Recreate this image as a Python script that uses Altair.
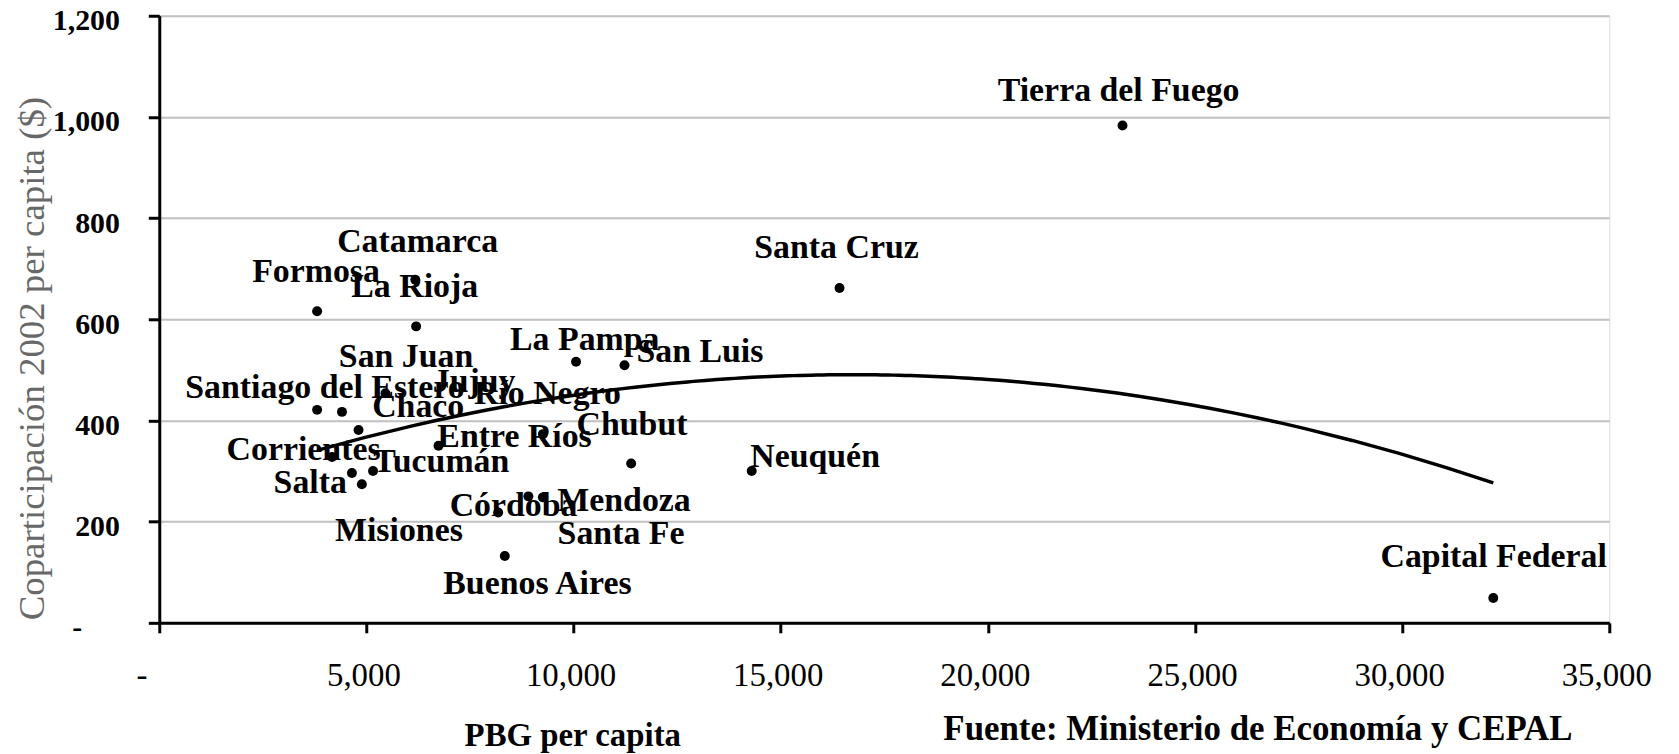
import altair as alt
import pandas as pd

provinces = ["Tierra del Fuego", "Santa Cruz", "Capital Federal", "Neuquén", "Chubut",
             "La Pampa", "San Luis", "Río Negro", "Entre Ríos", "San Juan", "Catamarca",
             "Formosa", "La Rioja", "Buenos Aires", "Santiago del Estero", "Chaco", "Jujuy",
             "Corrientes", "Salta", "Misiones", "Tucumán", "Córdoba", "Mendoza", "Santa Fe"]
pbg = [23250, 16420, 32200, 14300, 11390, 10060, 11230, 9260, 6740, 5460, 6180,
       3810, 6200, 8340, 3810, 4410, 4810, 4170, 4650, 4890, 5160, 8180, 8910, 9260]
copart = [983, 662, 49, 300, 315, 516, 509, 373, 350, 454, 678,
          616, 586, 132, 421, 417, 381, 328, 296, 274, 300, 218, 250, 248]
# label anchor positions (data units)
label_x = [23157, 16347, 32210, 15830, 11410, 10270, 13051, 9369, 8576, 5958, 6236,
           3784, 6166, 9128, 4000, 6250, 7600, 3483, 3644, 5785, 6808, 8552, 11219, 11146]
label_y = [1052, 740, 130, 328, 391, 558, 535, 452, 368, 526, 752,
           693, 663, 77, 464, 427, 476, 342, 277, 181, 317, 230, 240, 175]

x_ticks = [0, 5000, 10000, 15000, 20000, 25000, 30000, 35000]
y_ticks = [0, 200, 400, 600, 800, 1000, 1200]

df = pd.DataFrame({"prov": provinces, "pbg": pbg, "copart": copart,
                   "lx": label_x, "ly": label_y})

FONT = "Liberation Serif"
label_expr = "datum.value == 0 ? '-' : format(datum.value, ',')"

x_scale = alt.Scale(domain=[0, 35000], nice=False, zero=False)
y_scale = alt.Scale(domain=[0, 1200], nice=False, zero=False)

x_axis = alt.Axis(values=x_ticks, labelExpr=label_expr, labelFont=FONT, labelFontSize=33,
                  labelColor="black", labelPadding=27, labelFlush=False, labelOverlap=False,
                  labelOffset={"condition": {"test": "datum.value == 0", "value": -18},
                               "value": -3},
                  tickSize=10, tickWidth=3, tickColor="black",
                  domainColor="black", domainWidth=3, grid=False,
                  title="PBG per capita", titleFont=FONT, titleFontSize=33,
                  titleFontWeight="bold", titleColor="black",
                  titleX=415, titleY=113, titleAlign="center", titleBaseline="middle")

y_axis = alt.Axis(values=y_ticks, labelExpr=label_expr, labelFont=FONT, labelFontSize=30,
                  labelFontWeight="bold", labelColor="black",
                  labelPadding={"condition": {"test": "datum.value == 0", "value": 67},
                                "value": 29},
                  labelFlush=False, labelOverlap=False, labelOffset=5,
                  tickSize=11, tickWidth=3, tickColor="black",
                  domainColor="black", domainWidth=3,
                  grid=True, gridColor="#c0c0c0", gridWidth=2,
                  title="Coparticipación 2002 per capita ($)", titleFont=FONT,
                  titleFontSize=37, titleFontWeight="normal", titleColor="#686868",
                  titleAngle=270, titleX=-127, titleY=344, titleAlign="center",
                  titleBaseline="middle")

base = alt.Chart(df)

points = base.mark_point(filled=True, size=100, color="black", opacity=1, shape="circle").encode(
    x=alt.X("pbg:Q", scale=x_scale, axis=x_axis),
    y=alt.Y("copart:Q", scale=y_scale, axis=y_axis),
)

trend = base.transform_regression("pbg", "copart", method="poly", order=2).mark_line(
    color="black", strokeWidth=3.5
).encode(
    x=alt.X("pbg:Q", scale=x_scale),
    y=alt.Y("copart:Q", scale=y_scale),
)

labels = base.mark_text(font=FONT, fontSize=34, fontWeight="bold", color="black",
                        align="center", baseline="middle").encode(
    x=alt.X("lx:Q", scale=x_scale),
    y=alt.Y("ly:Q", scale=y_scale),
    text="prov:N",
)

chart = alt.layer(trend, points, labels).properties(
    width=1457,
    height=610,
    autosize=alt.AutoSizeParams(type="none"),
    padding={"left": 152, "top": 6, "right": 62, "bottom": 130},
    title=alt.TitleParams("Fuente: Ministerio de Economía y CEPAL", orient="bottom",
                          anchor="end", frame="group", font=FONT, fontSize=35,
                          fontWeight="bold", color="black", offset=0, dx=-37, dy=-40),
).configure_view(stroke="#8c8c8c", strokeWidth=2.5).configure(background="white")

chart.save("out.html", embed_options={"renderer": "svg", "actions": False})
